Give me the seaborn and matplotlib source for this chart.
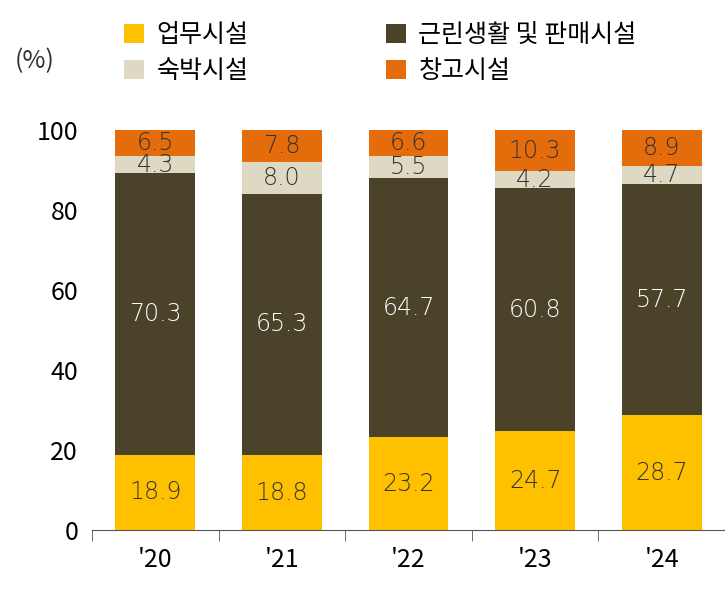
import matplotlib
matplotlib.use("Agg")
import matplotlib.pyplot as plt
import seaborn as sns
import numpy as np
import pandas as pd

years = ["'20", "'21", "'22", "'23", "'24"]
office = [18.9, 18.8, 23.2, 24.7, 28.7]
retail = [70.3, 65.3, 64.7, 60.8, 57.7]
lodging = [4.3, 8.0, 5.5, 4.2, 4.7]
warehouse = [6.5, 7.8, 6.6, 10.3, 8.9]
names = ["업무시설", "근린생활 및 판매시설", "숙박시설", "창고시설"]
colors = ["#FFC000", "#4A4229", "#DDD9C3", "#E46C0A"]
txtc = ["#333333", "white", "#333333", "#333333"]

plt.rcParams["font.family"] = ["Noto Sans CJK KR", "Noto Sans CJK JP", "Noto Sans CJK SC", "DejaVu Sans"]
fig = plt.figure(figsize=(7.25, 5.91), dpi=100)
ax = fig.add_axes([0.127, 0.103, 0.873, 0.677])
series = [office, retail, lodging, warehouse]
bottom = np.zeros(5)
for s, n, c, tc in zip(series, names, colors, txtc):
    df = pd.DataFrame({"x": years, "y": s})
    sns.barplot(data=df, x="x", y="y", bottom=bottom, color=c, width=0.63, ax=ax, label=n, saturation=1)
    for i, v in enumerate(s):
        ax.text(i, bottom[i] + v / 2, f"{v:.1f}", ha="center", va="center", fontsize=17,
                color=tc, fontfamily="DejaVu Sans", fontweight="light")
    bottom = bottom + np.array(s)
h, l = ax.get_legend_handles_labels()
if ax.legend_ is not None:
    ax.legend_.remove()
ax.set_xlim(-0.5, 4.5)
ax.set_ylim(0, 100)
ax.set_yticks(range(0, 101, 20))
ax.set_xlabel(""); ax.set_ylabel("")
for sp in ["top", "right", "left"]:
    ax.spines[sp].set_visible(False)
ax.spines["bottom"].set_color("#555555")
ax.tick_params(axis="y", length=0, labelsize=18, pad=10)
ax.tick_params(axis="x", length=0, labelsize=18, pad=12)
ax.set_xticks(np.arange(-0.5, 5, 1), minor=True)
ax.tick_params(axis="x", which="minor", length=8, direction="out", color="#555555")
fig.text(0.02, 0.885, "(%)", fontsize=18, color="#333333")
order = [0, 2, 1, 3]
fig.legend([h[i] for i in order], [l[i] for i in order], loc="upper left", bbox_to_anchor=(0.14, 1.0),
           ncol=2, frameon=False, fontsize=18, handlelength=0.8, handleheight=0.8,
           columnspacing=5.5, handletextpad=0.5, labelspacing=0.4)
fig.savefig("out.png", dpi=100)
